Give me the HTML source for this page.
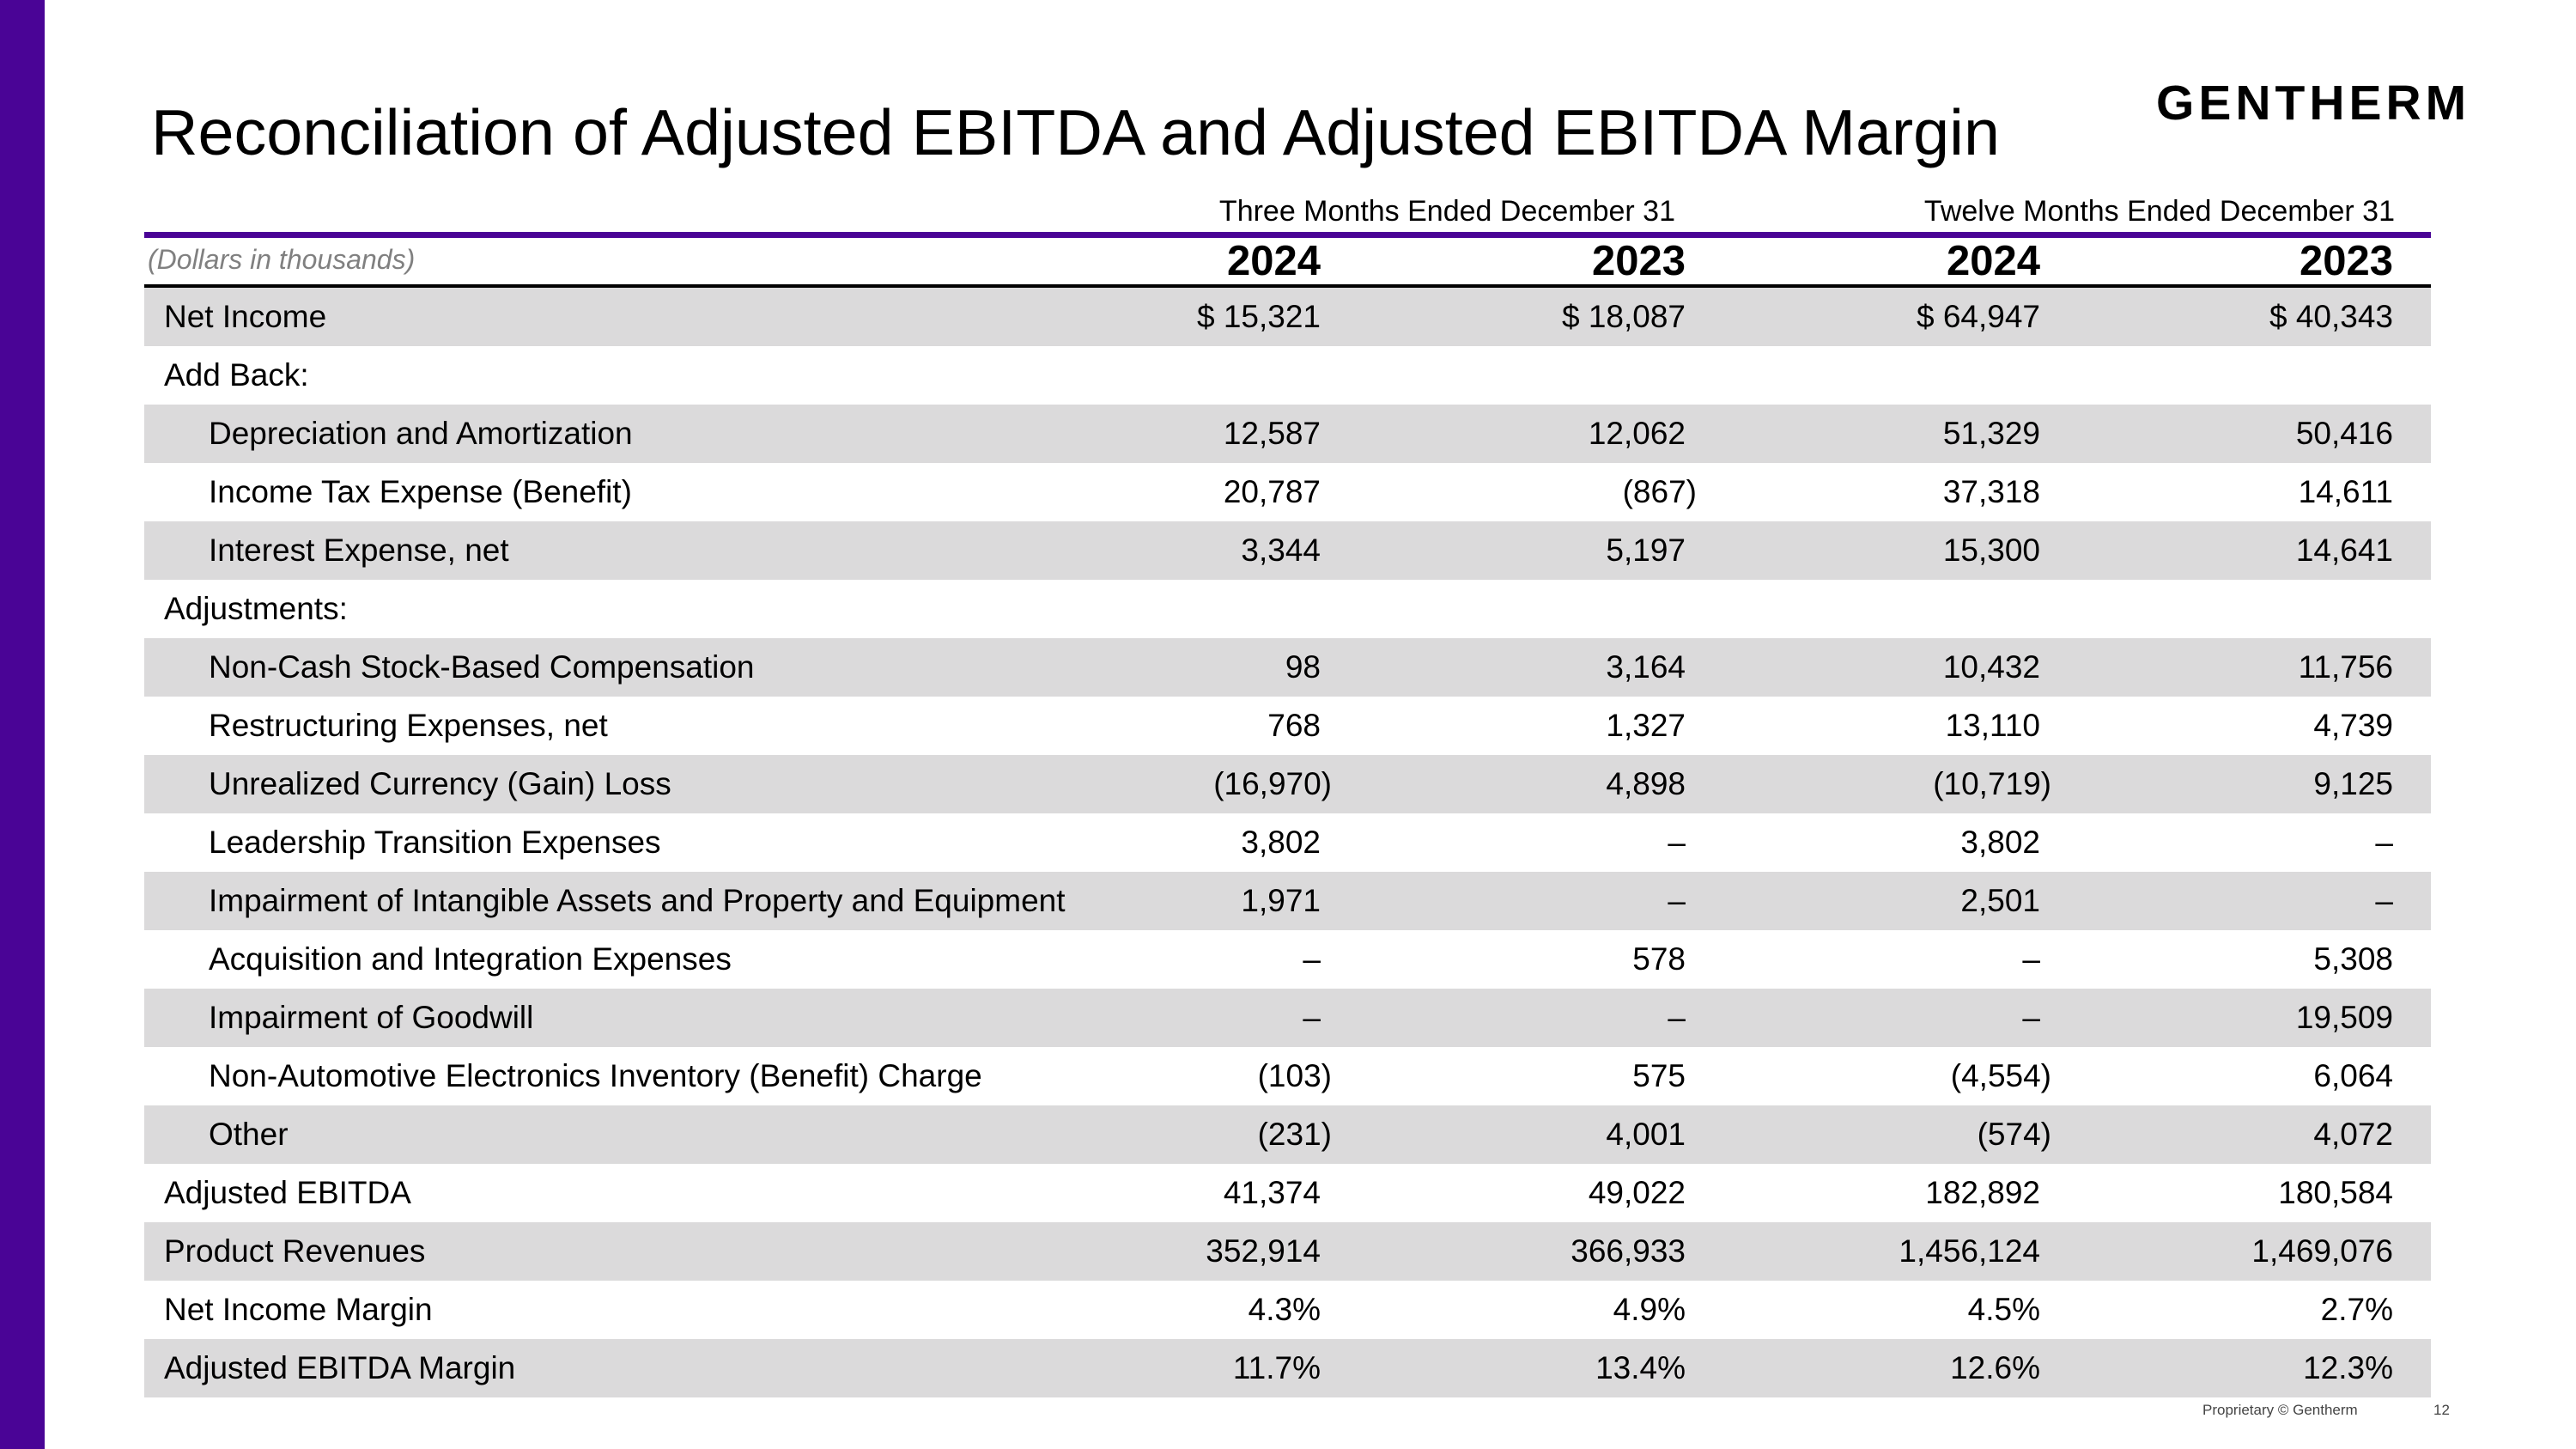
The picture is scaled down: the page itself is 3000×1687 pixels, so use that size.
<!DOCTYPE html>
<html><head><meta charset="utf-8"><style>
*{margin:0;padding:0;box-sizing:border-box}
body{width:3000px;height:1687px;background:#fff;position:relative;overflow:hidden;font-family:"Liberation Sans",Arial,sans-serif;color:#000}
.abs{position:absolute;white-space:nowrap}
.row{position:absolute;left:168px;width:2663px;height:68px}
.g{background:#dbdadb}
.lab{position:absolute;line-height:68px;font-size:37px}
.v{position:absolute;line-height:68px;font-size:37px;text-align:right;width:400px}
</style></head><body>
<div class="abs" style="left:0;top:0;width:52px;height:1687px;background:#4a0496"></div>
<div class="abs" style="left:176px;top:104px;font-size:75.5px;line-height:100px">Reconciliation of Adjusted EBITDA and Adjusted EBITDA Margin</div>
<div class="abs" style="left:2511px;top:90px;font-size:57px;font-weight:bold;letter-spacing:5px;line-height:60px">GENTHERM</div>
<div class="abs" style="left:1351px;width:600px;text-align:right;top:226px;font-size:34px;line-height:40px">Three Months Ended December 31</div>
<div class="abs" style="left:2189px;width:600px;text-align:right;top:226px;font-size:34px;line-height:40px">Twelve Months Ended December 31</div>
<div class="abs" style="left:168px;top:270px;width:2663px;height:7px;background:#4a0496"></div>
<div class="abs" style="left:172px;top:282px;font-size:32px;font-style:italic;color:#808080;line-height:40px">(Dollars in thousands)</div>
<div class="abs" style="left:1138px;width:400px;text-align:right;top:276px;font-size:49px;font-weight:bold;line-height:56px">2024</div>
<div class="abs" style="left:1563px;width:400px;text-align:right;top:276px;font-size:49px;font-weight:bold;line-height:56px">2023</div>
<div class="abs" style="left:1976px;width:400px;text-align:right;top:276px;font-size:49px;font-weight:bold;line-height:56px">2024</div>
<div class="abs" style="left:2387px;width:400px;text-align:right;top:276px;font-size:49px;font-weight:bold;line-height:56px">2023</div>
<div class="abs" style="left:168px;top:331px;width:2663px;height:5px;background:#000"></div>
<div id="t"></div>
<div class="abs" style="left:2565px;top:1632px;font-size:17px;color:#444">Proprietary © Gentherm</div>
<div class="abs" style="left:2834px;top:1632px;font-size:17px;color:#444">12</div>
<script>
var rows=[
["Net Income",0,["$ 15,321","$ 18,087","$ 64,947","$ 40,343"]],
["Add Back:",0,["","","",""]],
["Depreciation and Amortization",1,["12,587","12,062","51,329","50,416"]],
["Income Tax Expense (Benefit)",1,["20,787","(867)","37,318","14,611"]],
["Interest Expense, net",1,["3,344","5,197","15,300","14,641"]],
["Adjustments:",0,["","","",""]],
["Non-Cash Stock-Based Compensation",1,["98","3,164","10,432","11,756"]],
["Restructuring Expenses, net",1,["768","1,327","13,110","4,739"]],
["Unrealized Currency (Gain) Loss",1,["(16,970)","4,898","(10,719)","9,125"]],
["Leadership Transition Expenses",1,["3,802","–","3,802","–"]],
["Impairment of Intangible Assets and Property and Equipment",1,["1,971","–","2,501","–"]],
["Acquisition and Integration Expenses",1,["–","578","–","5,308"]],
["Impairment of Goodwill",1,["–","–","–","19,509"]],
["Non-Automotive Electronics Inventory (Benefit) Charge",1,["(103)","575","(4,554)","6,064"]],
["Other",1,["(231)","4,001","(574)","4,072"]],
["Adjusted EBITDA",0,["41,374","49,022","182,892","180,584"]],
["Product Revenues",0,["352,914","366,933","1,456,124","1,469,076"]],
["Net Income Margin",0,["4.3%","4.9%","4.5%","2.7%"]],
["Adjusted EBITDA Margin",0,["11.7%","13.4%","12.6%","12.3%"]]];
var R=[1538,1963,2376,2787],h="";
rows.forEach(function(r,i){
 var top=335+i*68;
 h+='<div class="row'+(i%2==0?' g':'')+'" style="top:'+top+'px"></div>';
 h+='<div class="lab abs" style="left:'+(r[1]?243:191)+'px;top:'+top+'px">'+r[0]+'</div>';
 r[2].forEach(function(v,j){
  var p=v.charAt(0)=="(";
  h+='<div class="v abs" style="left:'+(R[j]-400+(p?13:0))+'px;top:'+top+'px">'+v+'</div>';
 });
});
document.getElementById("t").innerHTML=h;
</script>
</body></html>
